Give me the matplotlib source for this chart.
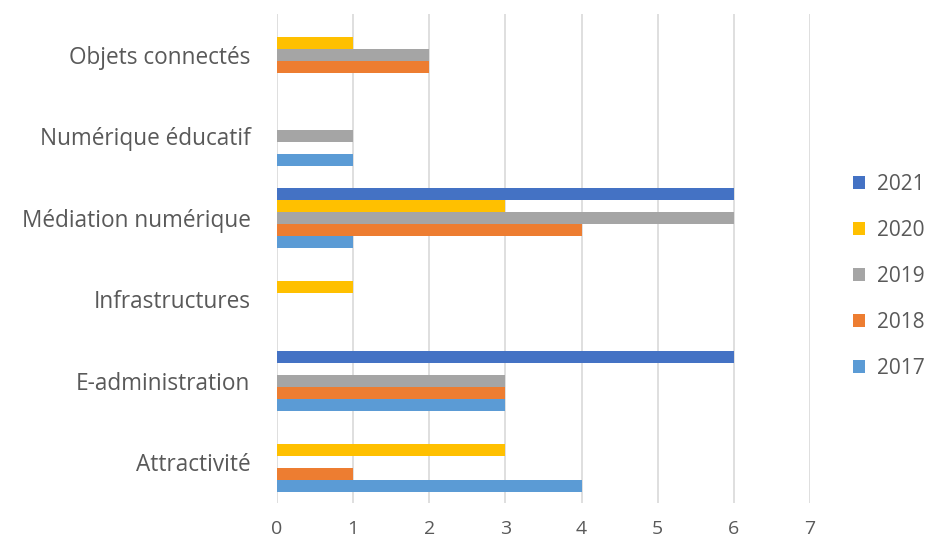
import numpy as np
from matplotlib import pyplot as plt

categories = ["Attractivité", "E-administration", "Infrastructures",
              "Médiation numérique", "Numérique éducatif", "Objets connectés"]
years = ["2017", "2018", "2019", "2020", "2021"]
v2017 = [4, 3, 0, 1, 1, 0]
v2018 = [1, 3, 0, 4, 0, 2]
v2019 = [0, 3, 0, 6, 1, 2]
v2020 = [3, 0, 1, 3, 0, 1]
v2021 = [0, 6, 0, 6, 0, 0]
colors = ["#5B9BD5", "#ED7D31", "#A5A5A5", "#FFC000", "#4472C4"]

plt.rcParams['font.family'] = ['Open Sans', 'DejaVu Sans']
txt = "#595959"

fig = plt.figure(figsize=(9.3, 5.43), dpi=100)
ax = fig.add_axes([0.2978, 0.0737, 0.5731, 0.9005])

y = np.arange(len(categories))
h = 0.148
handles = []
for i, vals in enumerate([v2017, v2018, v2019, v2020, v2021]):
    b = ax.barh(y + (i - 2) * h, vals, height=h, color=colors[i], label=years[i])
    handles.append(b)

ax.set_xlim(0, 7)
ax.set_ylim(-0.5, 5.5)
ax.set_xticks(range(8))
ax.set_yticks(y)
ax.set_yticklabels(categories, fontsize=16.3, color=txt)
ax.tick_params(axis='x', labelsize=14, colors=txt, length=0, pad=12)
ax.tick_params(axis='y', length=0, pad=19)
ax.grid(axis='x', color="#D9D9D9", linewidth=1.2)
ax.set_axisbelow(True)
for s in ax.spines.values():
    s.set_visible(False)

leg = fig.legend(handles[::-1], years[::-1], loc='center left',
                 bbox_to_anchor=(0.917, 0.491), frameon=False, fontsize=15,
                 handlelength=0.6, handleheight=0.6, handletextpad=0.55,
                 labelspacing=1.2, labelcolor=txt, borderpad=0, borderaxespad=0)

fig.savefig("out.png", dpi=100)
